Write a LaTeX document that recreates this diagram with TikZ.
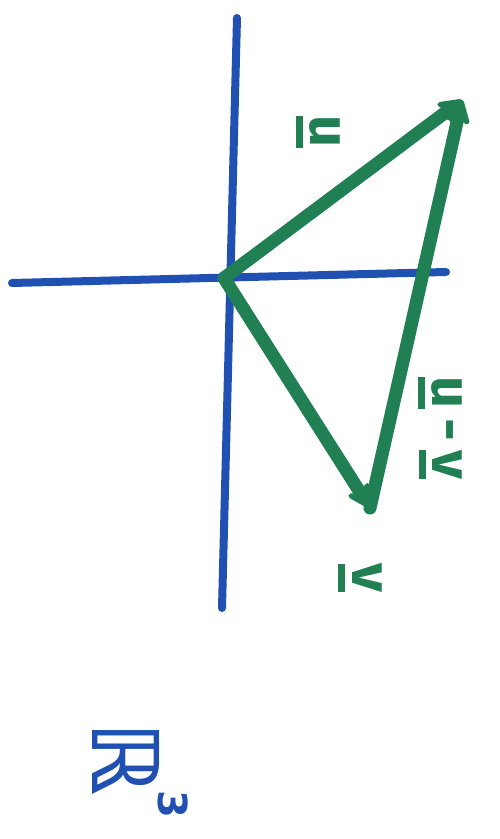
\documentclass[tikz,border=0pt]{standalone}
\usepackage{fontspec}
\setmainfont{Fira Sans}
\newfontfamily\dejavu{DejaVu Sans}
\usetikzlibrary{arrows.meta}
\definecolor{penblue}{RGB}{32,80,178}
\definecolor{pengreen}{RGB}{32,128,84}
\newcommand\penul[1]{\leavevmode\vtop{\hbox{#1}\kern7pt\hrule height 7pt\relax}}
\tikzset{
  axisline/.style={penblue,line width=8pt,line cap=round},
  vecline/.style={pengreen,line width=13pt,line cap=round,line join=round,-{Stealth[length=30pt,width=32pt,round]}},
  penlabel/.style={pengreen,rotate=-90,font=\fontsize{56}{56}\selectfont\bfseries,inner sep=0pt},
}
\begin{document}
\begin{tikzpicture}[x=1pt,y=-1pt]
\useasboundingbox[fill=white] (0,0) rectangle (499,839);
\coordinate (ytop) at (237,18);
\coordinate (ybot) at (222,608);
\coordinate (xl) at (12,283);
\coordinate (xr) at (446,272);
\coordinate (O) at (224,278);
\coordinate (U) at (462,100);
\coordinate (V) at (370,508);
\draw[axisline] (ytop) -- (ybot);
\draw[axisline] (xl) -- (xr);
\draw[vecline] (O) -- (U);
\draw[vecline] (O) -- (V);
\draw[vecline] (V) -- (U);
\node[penlabel] (lu) at (318,132) {\penul{u}};
\node[penlabel] (luv) at (440,428) {\penul{u}\,-\,\penul{v}};
\node[penlabel] (lv) at (360,578) {\penul{v}};
\node[penlabel,penblue,font=\fontsize{92}{92}\selectfont\dejavu\bfseries] (lr) at (140,770) {ℝ\kern-4pt\raisebox{66pt}{\fontsize{40}{40}\selectfont 3}};
\end{tikzpicture}
\end{document}
